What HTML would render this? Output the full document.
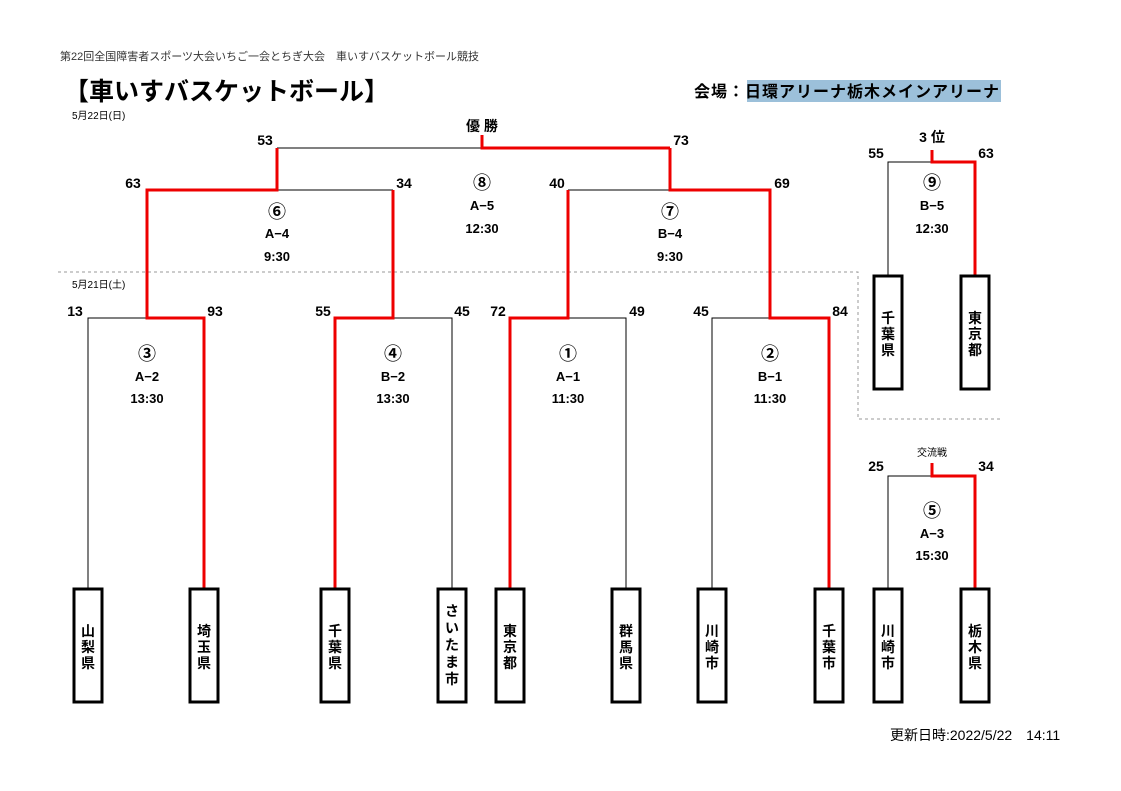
<!DOCTYPE html>
<html><head><meta charset="utf-8"><style>
body{margin:0;background:#fff;}
svg{display:block;font-family:"Liberation Sans","Noto Sans CJK JP",sans-serif;}
.s{font-size:14px;font-weight:bold;text-anchor:middle;}
.l{font-size:13px;font-weight:bold;text-anchor:middle;}
.c{font-size:18px;font-weight:bold;text-anchor:middle;}
.v{font-size:14px;font-weight:bold;text-anchor:middle;}
</style></head><body>
<svg width="1121" height="791" viewBox="0 0 1121 791">
<rect width="1121" height="791" fill="#fff"/>
<text x="60" y="60" font-size="11" fill="#333">第22回全国障害者スポーツ大会いちご一会とちぎ大会　車いすバスケットボール競技</text>
<text x="64" y="100" font-size="25" font-weight="bold">【車いすバスケットボール】</text>
<text x="72" y="119" font-size="10">5月22日(日)</text>
<text x="72" y="288" font-size="10">5月21日(土)</text>
<rect x="747" y="80" width="254" height="22" fill="#9cc0da"/>
<text x="694" y="97" font-size="16" font-weight="bold" letter-spacing="1">会場：日環アリーナ栃木メインアリーナ</text>
<g stroke="#999" stroke-dasharray="3,3" fill="none" stroke-width="1">
<path d="M58 272H858V419H1003"/>
</g>
<g stroke="#000" stroke-width="1" fill="none">
<path d="M88 588V318H147"/><path d="M393 318H452V588"/><path d="M568 318H626V588"/><path d="M712 588V318H770"/>
<path d="M277 190H393"/><path d="M568 190H670"/><path d="M277 148H482"/>
<path d="M888 275V162H932"/><path d="M888 588V476H932"/>
</g>
<g stroke="#e00" stroke-width="3" fill="none">
<path d="M204 588V318H147V190H277V148"/>
<path d="M335 588V318H393V190"/>
<path d="M510 588V318H568V190"/>
<path d="M829 588V318H770V190H670V148"/>
<path d="M482 135V148H670"/>
<path d="M932 150V162H975V275"/>
<path d="M932 463V476H975V588"/>
</g>
<g fill="#fff" stroke="#000" stroke-width="3">
<rect x="74" y="589" width="28" height="113"/><rect x="190" y="589" width="28" height="113"/>
<rect x="321" y="589" width="28" height="113"/><rect x="438" y="589" width="28" height="113"/>
<rect x="496" y="589" width="28" height="113"/><rect x="612" y="589" width="28" height="113"/>
<rect x="698" y="589" width="28" height="113"/><rect x="815" y="589" width="28" height="113"/>
<rect x="874" y="589" width="28" height="113"/><rect x="961" y="589" width="28" height="113"/>
<rect x="874" y="276" width="28" height="113"/><rect x="961" y="276" width="28" height="113"/>
</g>
<g>
<text class="v" x="88" y="636">山</text><text class="v" x="88" y="652">梨</text><text class="v" x="88" y="668">県</text>
<text class="v" x="204" y="636">埼</text><text class="v" x="204" y="652">玉</text><text class="v" x="204" y="668">県</text>
<text class="v" x="335" y="636">千</text><text class="v" x="335" y="652">葉</text><text class="v" x="335" y="668">県</text>
<text class="v" x="452" y="616">さ</text><text class="v" x="452" y="633">い</text><text class="v" x="452" y="650">た</text><text class="v" x="452" y="667">ま</text><text class="v" x="452" y="684">市</text>
<text class="v" x="510" y="636">東</text><text class="v" x="510" y="652">京</text><text class="v" x="510" y="668">都</text>
<text class="v" x="626" y="636">群</text><text class="v" x="626" y="652">馬</text><text class="v" x="626" y="668">県</text>
<text class="v" x="712" y="636">川</text><text class="v" x="712" y="652">崎</text><text class="v" x="712" y="668">市</text>
<text class="v" x="829" y="636">千</text><text class="v" x="829" y="652">葉</text><text class="v" x="829" y="668">市</text>
<text class="v" x="888" y="636">川</text><text class="v" x="888" y="652">崎</text><text class="v" x="888" y="668">市</text>
<text class="v" x="975" y="636">栃</text><text class="v" x="975" y="652">木</text><text class="v" x="975" y="668">県</text>
<text class="v" x="888" y="323">千</text><text class="v" x="888" y="339">葉</text><text class="v" x="888" y="355">県</text>
<text class="v" x="975" y="323">東</text><text class="v" x="975" y="339">京</text><text class="v" x="975" y="355">都</text>
</g>
<g>
<text class="s" x="265" y="145">53</text><text class="s" x="681" y="145">73</text>
<text class="s" x="133" y="188">63</text><text class="s" x="404" y="188">34</text>
<text class="s" x="557" y="188">40</text><text class="s" x="782" y="188">69</text>
<text class="s" x="75" y="316">13</text><text class="s" x="215" y="316">93</text>
<text class="s" x="323" y="316">55</text><text class="s" x="462" y="316">45</text>
<text class="s" x="498" y="316">72</text><text class="s" x="637" y="316">49</text>
<text class="s" x="701" y="316">45</text><text class="s" x="840" y="316">84</text>
<text class="s" x="876" y="158">55</text><text class="s" x="986" y="158">63</text>
<text class="s" x="876" y="471">25</text><text class="s" x="986" y="471">34</text>
<text class="s" x="482" y="131">優 勝</text><text class="s" x="932" y="142">3 位</text>
</g>
<text x="932" y="456" font-size="10" text-anchor="middle">交流戦</text>
<g>
<text class="c" x="277" y="218">⑥</text><text class="l" x="277" y="238">A−4</text><text class="l" x="277" y="261">9:30</text>
<text class="c" x="482" y="189">⑧</text><text class="l" x="482" y="210">A−5</text><text class="l" x="482" y="233">12:30</text>
<text class="c" x="670" y="218">⑦</text><text class="l" x="670" y="238">B−4</text><text class="l" x="670" y="261">9:30</text>
<text class="c" x="932" y="189">⑨</text><text class="l" x="932" y="210">B−5</text><text class="l" x="932" y="233">12:30</text>
<text class="c" x="147" y="360">③</text><text class="l" x="147" y="381">A−2</text><text class="l" x="147" y="403">13:30</text>
<text class="c" x="393" y="360">④</text><text class="l" x="393" y="381">B−2</text><text class="l" x="393" y="403">13:30</text>
<text class="c" x="568" y="360">①</text><text class="l" x="568" y="381">A−1</text><text class="l" x="568" y="403">11:30</text>
<text class="c" x="770" y="360">②</text><text class="l" x="770" y="381">B−1</text><text class="l" x="770" y="403">11:30</text>
<text class="c" x="932" y="517">⑤</text><text class="l" x="932" y="538">A−3</text><text class="l" x="932" y="560">15:30</text>
</g>
<text x="890" y="740" font-size="14">更新日時:2022/5/22　14:11</text>
</svg>
</body></html>
